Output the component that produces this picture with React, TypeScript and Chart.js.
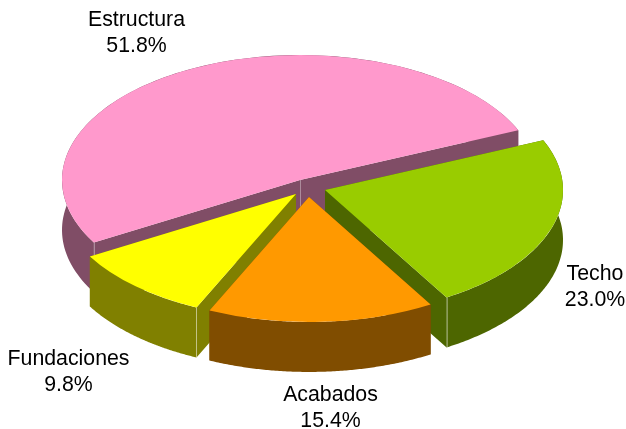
import React, { useEffect, useRef } from "react";
import { Chart, registerables } from "chart.js";

Chart.register(...registerables);

const categories = ["Estructura", "Techo", "Acabados", "Fundaciones"];
const shares = [51.8, 23.0, 15.4, 9.8];
const percentLabels = ["51.8%", "23.0%", "15.4%", "9.8%"];

const topColors = ["#FF99CC", "#99CC00", "#FF9900", "#FFFF00"];
const wallColors = ["#804D66", "#4D6600", "#804D00", "#808000"];

// Layout of the exploded, tilted pie (screen pixels)
const WIDTH = 626;
const HEIGHT = 429;
const RADIUS = 238;
const TILT = 0.525;
const DEPTH = 50;
const explodeX = [0, 25, 9, -4];
const explodeY = [0, 10, 17, 14];
const wallOrder = [0, 1, 3, 2];
const ridges = [["tip", "start"], ["end"], [], ["start"]];
const labelX = [136.5, 595, 330.5, 68.5];
const labelY = [26, 280, 401, 365];
const LINE_HEIGHT = 26;
const FONT = '21.3px "Liberation Sans", Arial, sans-serif';

const pie3d = {
  id: "pie3d",
  afterDatasetsUpdate(chart: any) {
    const cy = chart.chartArea.top + chart.chartArea.height / 2;
    chart.getDatasetMeta(0).data.forEach((arc: any, i: number) => {
      arc.x += explodeX[i];
      arc.y = cy + explodeY[i] / TILT;
    });
  },
  beforeDatasetsDraw(chart: any) {
    const ctx: CanvasRenderingContext2D = chart.ctx;
    const cy = chart.chartArea.top + chart.chartArea.height / 2;
    const arcs = chart.getDatasetMeta(0).data;
    const project = (arc: any, a: number, r: number) => [
      arc.x + r * Math.cos(a),
      cy + TILT * (arc.y - cy + r * Math.sin(a)),
    ];
    ctx.save();
    wallOrder.forEach((i) => {
      const arc = arcs[i];
      const r = arc.outerRadius;
      ctx.fillStyle = wallColors[i];
      // radial cut faces
      [arc.startAngle, arc.endAngle].forEach((a: number) => {
        const [tx, ty] = project(arc, 0, 0);
        const [rx, ry] = project(arc, a, r);
        ctx.beginPath();
        ctx.moveTo(tx, ty);
        ctx.lineTo(rx, ry);
        ctx.lineTo(rx, ry + DEPTH);
        ctx.lineTo(tx, ty + DEPTH);
        ctx.closePath();
        ctx.fill();
      });
      // outer rim face
      const steps = 120;
      ctx.beginPath();
      for (let s = 0; s <= steps; s++) {
        const a = arc.startAngle + ((arc.endAngle - arc.startAngle) * s) / steps;
        const [x, y] = project(arc, a, r);
        if (s === 0) ctx.moveTo(x, y);
        else ctx.lineTo(x, y);
      }
      for (let s = steps; s >= 0; s--) {
        const a = arc.startAngle + ((arc.endAngle - arc.startAngle) * s) / steps;
        const [x, y] = project(arc, a, r);
        ctx.lineTo(x, y + DEPTH);
      }
      ctx.closePath();
      ctx.fill();
      // pale ridge lines where two visible faces meet
      ctx.strokeStyle = "rgba(255,255,255,0.35)";
      ctx.lineWidth = 1;
      ridges[i].forEach((kind) => {
        const [x, y] =
          kind === "tip"
            ? project(arc, 0, 0)
            : project(arc, kind === "start" ? arc.startAngle : arc.endAngle, r);
        ctx.beginPath();
        ctx.moveTo(Math.round(x) + 0.5, y);
        ctx.lineTo(Math.round(x) + 0.5, y + DEPTH);
        ctx.stroke();
      });
    });
    ctx.restore();

    // The library's own arcs are drawn next, flattened onto the tilted plane.
    ctx.save();
    ctx.translate(0, cy);
    ctx.scale(1, TILT);
    ctx.translate(0, -cy);
  },
  afterDatasetsDraw(chart: any) {
    chart.ctx.restore();
  },
  afterDraw(chart: any) {
    const ctx: CanvasRenderingContext2D = chart.ctx;
    ctx.save();
    ctx.fillStyle = "#000000";
    ctx.font = FONT;
    ctx.textAlign = "center";
    ctx.textBaseline = "alphabetic";
    categories.forEach((name, i) => {
      ctx.fillText(name, labelX[i], labelY[i]);
      ctx.fillText(percentLabels[i], labelX[i], labelY[i] + LINE_HEIGHT);
    });
    ctx.restore();
  },
};

export default function App() {
  const canvasRef = useRef<HTMLCanvasElement>(null);

  useEffect(() => {
    const chart = new Chart(canvasRef.current as HTMLCanvasElement, {
      type: "pie",
      data: {
        labels: categories,
        datasets: [
          {
            data: shares,
            backgroundColor: topColors,
            borderWidth: 0,
            clip: false,
          } as any,
        ],
      },
      options: {
        responsive: false,
        animation: false,
        radius: RADIUS,
        rotation: 240,
        layout: { padding: { left: 0, right: 26, top: 0, bottom: 69 } },
        plugins: { legend: { display: false }, tooltip: { enabled: false } },
        events: [],
      } as any,
      plugins: [pie3d],
    });
    return () => chart.destroy();
  }, []);

  return (
    <canvas
      ref={canvasRef}
      width={WIDTH}
      height={HEIGHT}
      style={{ position: "absolute", left: 0, top: 0, width: WIDTH, height: HEIGHT, background: "#fff" }}
    />
  );
}
